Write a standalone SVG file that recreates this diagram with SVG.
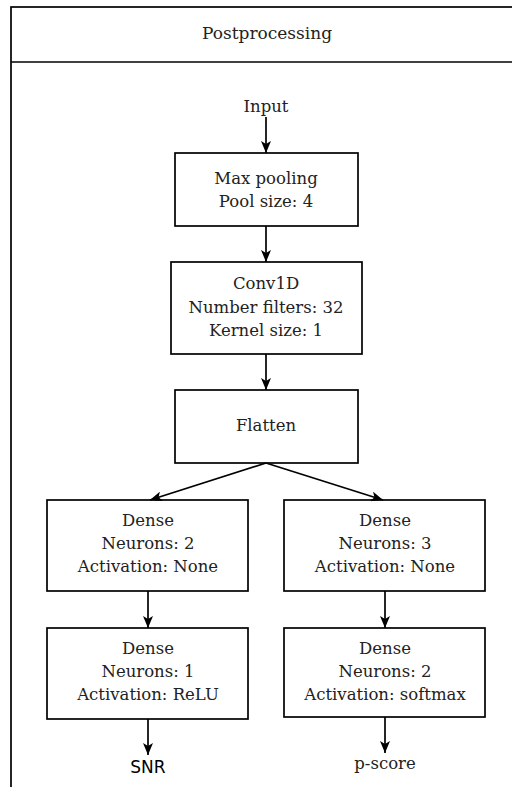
<svg xmlns="http://www.w3.org/2000/svg" width="512" height="787" viewBox="0 0 512 787">
  <style>
    .box { fill: #ffffff; stroke: #000000; stroke-width: 1.7; }
    .frame { fill: none; stroke: #000000; stroke-width: 1.7; }
    .lbl { font-family: 'DejaVu Serif', 'Liberation Serif', serif; font-size: 16.5px; fill: #222222; text-anchor: middle; }
    .title { font-size: 17px; }
    .sans { font-family: 'DejaVu Sans', 'Liberation Sans', sans-serif; font-size: 17px; fill: #000000; text-anchor: middle; }
    .edge { fill: none; stroke: #000000; stroke-width: 1.7; marker-end: url(#arrow); }
  </style>
  <defs>
    <marker id="arrow" viewBox="0 0 12 10" refX="12" refY="5" markerWidth="12" markerHeight="10" orient="auto" markerUnits="userSpaceOnUse">
      <path d="M0,0 L12,5 L0,10 L3,5 Z" fill="#000000"/>
    </marker>
  </defs>

  <!-- outer frame with header band -->
  <g id="frame">
    <rect class="frame" x="11" y="7" width="520" height="800"/>
    <line class="frame" x1="11" y1="62" x2="520" y2="62"/>
    <text class="lbl title" x="267" y="39">Postprocessing</text>
  </g>

  <g id="input">
    <text class="lbl" x="266" y="112">Input</text>
  </g>

  <g id="maxpool">
    <rect class="box" x="175" y="153" width="183" height="73"/>
    <text class="lbl" x="266" y="184">Max pooling</text>
    <text class="lbl" x="266" y="207">Pool size: 4</text>
  </g>

  <g id="conv1d">
    <rect class="box" x="171" y="262" width="191" height="92"/>
    <text class="lbl" x="266" y="289">Conv1D</text>
    <text class="lbl" x="266" y="313">Number filters: 32</text>
    <text class="lbl" x="266" y="336">Kernel size: 1</text>
  </g>

  <g id="flatten">
    <rect class="box" x="175" y="390" width="183" height="73"/>
    <text class="lbl" x="266" y="431">Flatten</text>
  </g>

  <g id="dense-left-1">
    <rect class="box" x="47" y="500" width="201" height="91"/>
    <text class="lbl" x="148" y="526">Dense</text>
    <text class="lbl" x="148" y="549">Neurons: 2</text>
    <text class="lbl" x="148" y="572">Activation: None</text>
  </g>

  <g id="dense-right-1">
    <rect class="box" x="284" y="500" width="201" height="91"/>
    <text class="lbl" x="385" y="526">Dense</text>
    <text class="lbl" x="385" y="549">Neurons: 3</text>
    <text class="lbl" x="385" y="572">Activation: None</text>
  </g>

  <g id="dense-left-2">
    <rect class="box" x="47" y="628" width="201" height="91"/>
    <text class="lbl" x="148" y="654">Dense</text>
    <text class="lbl" x="148" y="677">Neurons: 1</text>
    <text class="lbl" x="148" y="700">Activation: ReLU</text>
  </g>

  <g id="dense-right-2">
    <rect class="box" x="284" y="628" width="201" height="89"/>
    <text class="lbl" x="385" y="654">Dense</text>
    <text class="lbl" x="385" y="677">Neurons: 2</text>
    <text class="lbl" x="385" y="700">Activation: softmax</text>
  </g>

  <g id="snr">
    <text class="sans" x="148" y="773">SNR</text>
  </g>

  <g id="pscore">
    <text class="lbl" x="385" y="769">p-score</text>
  </g>

  <!-- connectors -->
  <g id="connectors">
    <line class="edge" x1="266" y1="117" x2="266" y2="153"/>
    <line class="edge" x1="266" y1="226" x2="266" y2="262"/>
    <line class="edge" x1="266" y1="354" x2="266" y2="390"/>
    <line class="edge" x1="266" y1="463" x2="150" y2="500"/>
    <line class="edge" x1="266" y1="463" x2="383" y2="500"/>
    <line class="edge" x1="148" y1="591" x2="148" y2="628"/>
    <line class="edge" x1="385" y1="591" x2="385" y2="628"/>
    <line class="edge" x1="148" y1="719" x2="148" y2="755"/>
    <line class="edge" x1="385" y1="717" x2="385" y2="753"/>
  </g>
</svg>
